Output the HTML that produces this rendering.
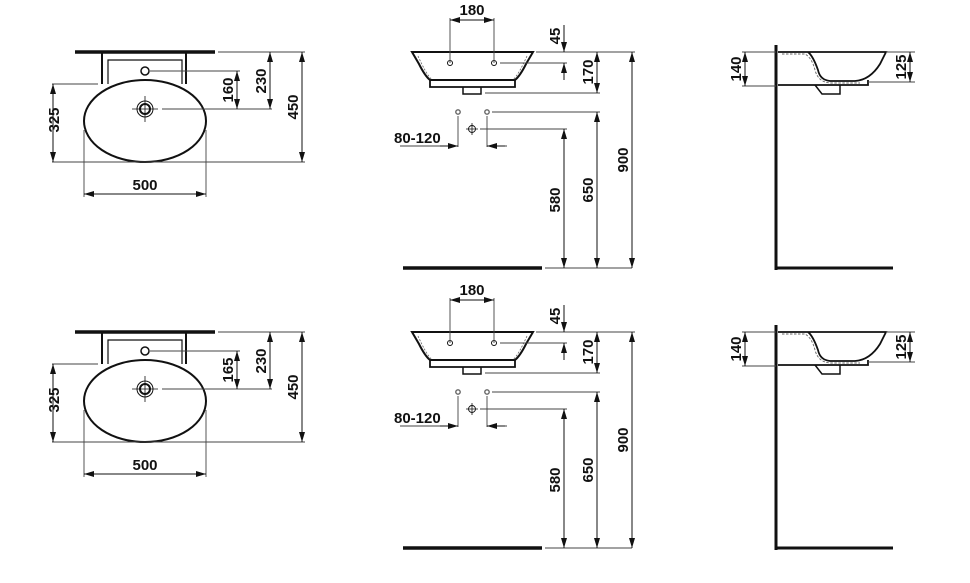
<!DOCTYPE html>
<html><head><meta charset="utf-8"><style>
html,body{margin:0;padding:0;background:#fff}
svg{display:block}
text{font-family:"Liberation Sans",Arial,sans-serif;font-weight:bold;font-size:15px;fill:#111}
</style></head><body>
<svg width="970" height="583" viewBox="0 0 970 583" xmlns="http://www.w3.org/2000/svg">
<defs>
<marker id="a" viewBox="0 0 10 6" refX="10" refY="3" markerWidth="10" markerHeight="6" markerUnits="userSpaceOnUse" orient="auto-start-reverse"><path d="M0,0L10,3L0,6z" fill="#111"/></marker>
<g id="half">
 <g fill="none" stroke="#111">
  <line x1="75" y1="52" x2="215" y2="52" stroke-width="3.5"/>
  <path d="M102,52V84M186,52V84" stroke-width="2"/>
  <path d="M108,84V60H182V84" stroke-width="1.2"/>
  <circle cx="145" cy="71" r="4" stroke-width="1.5"/>
  <ellipse cx="145" cy="121" rx="61" ry="41" stroke-width="2"/>
  <circle cx="145" cy="109" r="8" stroke-width="1"/>
  <circle cx="145" cy="109" r="5" stroke-width="2"/>
  <path d="M132,109H158M145,96V122" stroke-width="0.8"/>
  <g stroke="#444" stroke-width="0.9">
   <path d="M150,71H240M162,109H272M218,52H305M52,162H305M52,84H98M84,130V197M206,130V197"/>
  </g>
  <g stroke="#111" stroke-width="1" marker-start="url(#a)" marker-end="url(#a)">
   <line x1="237" y1="71" x2="237" y2="109"/>
   <line x1="270" y1="52" x2="270" y2="109"/>
   <line x1="302" y1="52" x2="302" y2="162"/>
   <line x1="53" y1="84" x2="53" y2="162"/>
   <line x1="84" y1="194" x2="206" y2="194"/>
  </g>
 </g>
 <text x="145" y="190" text-anchor="middle">500</text>
 <text transform="translate(59,120) rotate(-90)" text-anchor="middle">325</text>
 <text transform="translate(266,81) rotate(-90)" text-anchor="middle">230</text>
 <text transform="translate(298,107) rotate(-90)" text-anchor="middle">450</text>

 <g fill="none" stroke="#111">
  <path d="M412,52H533L526,64Q520,76 515,80H430Q425,76 419,64Z" stroke-width="2"/>
  <path d="M418,56Q426,74 432,80M527,56Q519,74 513,80" stroke="#666" stroke-width="0.8" stroke-dasharray="2,1.5"/>
  <path d="M430,80V87H515V80" stroke-width="1.8"/>
  <path d="M463,87V94H481V87" stroke-width="1.5"/>
  <circle cx="450" cy="63" r="2.5" stroke-width="1"/>
  <circle cx="494" cy="63" r="2.5" stroke-width="1"/>
  <circle cx="458" cy="112" r="2.2" stroke="#666" stroke-width="1.4"/>
  <circle cx="487" cy="112" r="2.2" stroke="#666" stroke-width="1.4"/>
  <circle cx="472" cy="129" r="3.5" stroke-width="0.9"/>
  <path d="M466,129H478M472,123V135" stroke-width="0.8"/>
  <line x1="403" y1="268" x2="542" y2="268" stroke-width="3.5"/>
  <g stroke="#444" stroke-width="0.9">
   <path d="M450,18V63M494,18V63M500,63H567M536,52H635M485,93H600M492,112H600M480,129H567M458,116V147M487,116V147M545,268H632M400,146H457M487,146H507"/>
  </g>
  <g stroke="#111" stroke-width="1">
   <line x1="450" y1="20" x2="494" y2="20" marker-start="url(#a)" marker-end="url(#a)"/>
   <line x1="564" y1="25" x2="564" y2="52" marker-end="url(#a)"/>
   <line x1="564" y1="80" x2="564" y2="63" marker-end="url(#a)"/>
   <line x1="597" y1="52" x2="597" y2="93" marker-start="url(#a)" marker-end="url(#a)"/>
   <line x1="632" y1="52" x2="632" y2="268" marker-start="url(#a)" marker-end="url(#a)"/>
   <line x1="597" y1="112" x2="597" y2="268" marker-start="url(#a)" marker-end="url(#a)"/>
   <line x1="564" y1="129" x2="564" y2="268" marker-start="url(#a)" marker-end="url(#a)"/>
   <line x1="440" y1="146" x2="458" y2="146" marker-end="url(#a)"/>
   <line x1="505" y1="146" x2="487" y2="146" marker-end="url(#a)"/>
  </g>
 </g>
 <text x="472" y="15" text-anchor="middle">180</text>
 <text x="394" y="143">80-120</text>
 <text transform="translate(560,36) rotate(-90)" text-anchor="middle">45</text>
 <text transform="translate(593,72) rotate(-90)" text-anchor="middle">170</text>
 <text transform="translate(628,160) rotate(-90)" text-anchor="middle">900</text>
 <text transform="translate(593,190) rotate(-90)" text-anchor="middle">650</text>
 <text transform="translate(560,200) rotate(-90)" text-anchor="middle">580</text>

 <g fill="none" stroke="#111">
  <line x1="776" y1="45" x2="776" y2="270" stroke-width="3"/>
  <line x1="776" y1="268" x2="893" y2="268" stroke-width="3"/>
  <path d="M778,52H886L880,64Q870,80 855,81H830Q820,80 818,70Q813,56 808,52" stroke-width="1.8"/>
  <path d="M778,85H868V80" stroke-width="1.8"/>
  <path d="M782,54H805Q812,58 815,70Q818,82 830,83H860" stroke="#666" stroke-width="0.9" stroke-dasharray="2.5,1.5"/>
  <path d="M815,85L822,94H840V85" stroke-width="1.5"/>
  <g stroke="#444" stroke-width="0.9"><path d="M742,52H776M742,86H776M886,52H915M868,82H915"/></g>
  <g stroke="#111" stroke-width="1" marker-start="url(#a)" marker-end="url(#a)">
   <line x1="745" y1="52" x2="745" y2="86"/>
   <line x1="910" y1="52" x2="910" y2="82"/>
  </g>
 </g>
 <text transform="translate(741,69) rotate(-90)" text-anchor="middle">140</text>
 <text transform="translate(906,67) rotate(-90)" text-anchor="middle">125</text>
</g>
</defs>
<use href="#half"/>
<use href="#half" transform="translate(0,280)"/>
<text transform="translate(233,90) rotate(-90)" text-anchor="middle">160</text>
<text transform="translate(233,370) rotate(-90)" text-anchor="middle">165</text>
</svg>
</body></html>
